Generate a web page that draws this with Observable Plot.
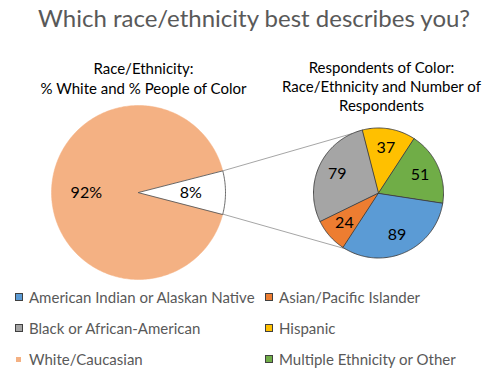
<!DOCTYPE html>
<html>
<head>
<meta charset="utf-8">
<script src="https://cdn.jsdelivr.net/npm/d3@7"></script>
<script src="https://cdn.jsdelivr.net/npm/@observablehq/plot@0.6"></script>
<style>
  html, body { margin: 0; padding: 0; background: #fff; }
  body { width: 500px; height: 372px; position: relative; overflow: hidden; font-family: Lato, "Open Sans", sans-serif; }
  #title { position: absolute; left: 0; top: 3px; width: 508px; text-align: center; font-size: 24px; color: #595959; white-space: nowrap; }
  #chart { position: absolute; left: 0; top: 40px; }
  #legend { position: absolute; left: 0; top: 282px; width: 500px; height: 90px; }
  .item { position: absolute; display: flex; align-items: center; font-size: 15px; color: #595959; white-space: nowrap; height: 20px; }
  .sw { width: 6px; height: 6px; border: 1px solid #404040; margin-right: 6px; box-sizing: content-box; }
  .sw.small { width: 5px; height: 5px; border: none; margin-left: 1px; margin-right: 8px; }
</style>
</head>
<body>
<div id="title"></div>
<div id="chart"></div>
<div id="legend"></div>
<script>
// ---- data ----
const title = "Which race/ethnicity best describes you?";
const mainTitleLines = ["Race/Ethnicity:", "% White and % People of Color"];
const detailTitleLines = ["Respondents of Color:", "Race/Ethnicity and Number of", "Respondents"];
const mainGroups = ["White/Caucasian", "People of Color"];
const mainPercents = [92, 8];
const detailGroups = ["American Indian or Alaskan Native", "Asian/Pacific Islander", "Black or African-American", "Hispanic", "Multiple Ethnicity or Other"];
const detailCounts = [89, 24, 79, 37, 51];
const legendOrder = ["American Indian or Alaskan Native", "Asian/Pacific Islander", "Black or African-American", "Hispanic", "White/Caucasian", "Multiple Ethnicity or Other"];
const colorDomain = ["American Indian or Alaskan Native", "Asian/Pacific Islander", "Black or African-American", "Hispanic", "White/Caucasian", "Multiple Ethnicity or Other", "People of Color"];
const colorRange = ["#5B9BD5", "#ED7D31", "#A5A5A5", "#FFC000", "#F4B183", "#70AD47", "#FFFFFF"];

// ---- geometry ----
const main = {cx: 138, cy: 192, r: 87};
const detail = {cx: 378, cy: 192.5, r: 65};
const rad = a => a * Math.PI / 180;
const pt = (c, a, f = 1) => [c.cx + c.r * f * Math.sin(rad(a)), c.cy - c.r * f * Math.cos(rad(a))];

function wedges(c, keys, values, start) {
  const total = d3.sum(values);
  const rows = [], labels = [];
  let a0 = start;
  keys.forEach((k, i) => {
    const span = values[i] / total * 360;
    const a1 = a0 + span;
    rows.push({key: k, x: c.cx, y: c.cy});
    const n = Math.max(2, Math.ceil(span));
    for (let j = 0; j <= n; j++) {
      const [x, y] = pt(c, a0 + span * j / n);
      rows.push({key: k, x, y});
    }
    labels.push({key: k, value: values[i], mid: (a0 + a1) / 2, a0, a1});
    a0 = a1;
  });
  return {rows, labels};
}

const mainSpan = mainPercents[1] / d3.sum(mainPercents) * 360;
const mainW = wedges(main, mainGroups, mainPercents, 90 + mainSpan / 2);
const detailW = wedges(detail, detailGroups, detailCounts, 98.7);

const mainLabelRows = mainW.labels.map(d => {
  const [x, y] = pt(main, d.mid, 0.6);
  return {x, y, text: d.value + "%"};
});
const detailLabelRows = detailW.labels.map(d => {
  const [x, y] = pt(detail, d.mid, 0.7);
  return {x, y, text: String(d.value)};
});

// connector lines
const pocSlice = mainW.labels[1];
const [ax, ay] = pt(main, pocSlice.a0);
const [bx, by] = pt(main, pocSlice.a1);
const [tx, ty] = pt(detail, -24);
const [ux, uy] = pt(detail, 211);
const connectors = [
  {id: 0, x: ax, y: ay}, {id: 0, x: tx, y: ty},
  {id: 1, x: bx, y: by}, {id: 1, x: ux, y: uy}
];

const mainTitleRows = mainTitleLines.map((t, i) => ({text: t, x: 143, y: 69 + i * 20}));
const detailTitleRows = detailTitleLines.map((t, i) => ({text: t, x: 381, y: 67.5 + i * 19}));

const chart = Plot.plot({
  width: 500,
  height: 242,
  margin: 0,
  x: {domain: [0, 500], range: [0, 500], axis: null},
  y: {domain: [40, 282], range: [0, 242], axis: null},
  color: {domain: colorDomain, range: colorRange},
  style: {fontFamily: "Lato, 'Open Sans', sans-serif", overflow: "visible"},
  marks: [
    Plot.line(connectors, {x: "x", y: "y", z: "id", stroke: "#A6A6A6", strokeWidth: 1}),
    Plot.line(mainW.rows.filter(d => d.key === "White/Caucasian"), {x: "x", y: "y", z: "key", fill: "key", stroke: "#F4B183", strokeWidth: 0.5, curve: "linear-closed"}),
    Plot.line(mainW.rows.filter(d => d.key === "People of Color"), {x: "x", y: "y", z: "key", fill: "key", stroke: "#595959", strokeWidth: 0.9, curve: "linear-closed"}),
    Plot.line(detailW.rows, {x: "x", y: "y", z: "key", fill: "key", stroke: "#404040", strokeWidth: 0.9, curve: "linear-closed"}),
    Plot.text(mainLabelRows, {x: "x", y: "y", text: "text", fontSize: 16, fill: "#000"}),
    Plot.text(detailLabelRows, {x: "x", y: "y", text: "text", fontSize: 16, fill: "#000"}),
    Plot.text(mainTitleRows, {x: "x", y: "y", text: "text", fontSize: 15, fill: "#000"}),
    Plot.text(detailTitleRows, {x: "x", y: "y", text: "text", fontSize: 15, fill: "#000"})
  ]
});
document.getElementById("chart").appendChild(chart);
document.getElementById("title").textContent = title;

// legend
const legend = document.getElementById("legend");
const colColor = d3.scaleOrdinal(colorDomain, colorRange);
const colX = [15, 265];
const rowY = [5, 36, 67];
legendOrder.forEach((k, i) => {
  const item = document.createElement("div");
  item.className = "item";
  item.style.left = colX[i % 2] + "px";
  item.style.top = rowY[Math.floor(i / 2)] + "px";
  const sw = document.createElement("span");
  sw.className = "sw" + (k === "White/Caucasian" ? " small" : "");
  sw.style.background = colColor(k);
  const label = document.createElement("span");
  label.textContent = k;
  item.appendChild(sw);
  item.appendChild(label);
  legend.appendChild(item);
});
</script>
</body>
</html>
